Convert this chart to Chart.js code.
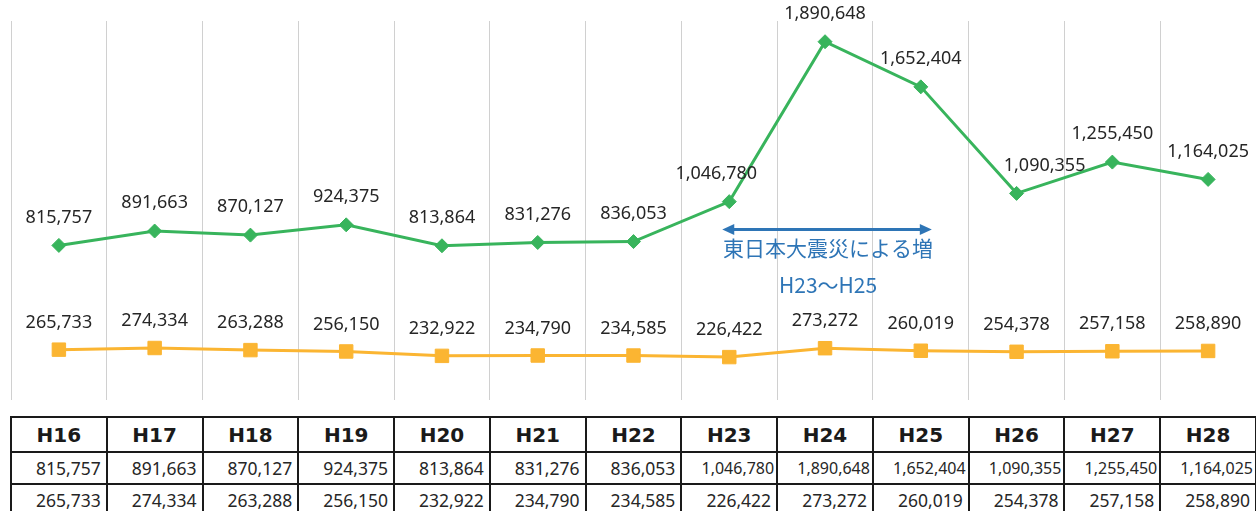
<!DOCTYPE html>
<html>
<head>
<meta charset="utf-8">
<script src="https://cdn.jsdelivr.net/npm/chart.js@4/dist/chart.umd.min.js"></script>
<style>
  html, body { margin: 0; padding: 0; background: #fff; width: 1256px; height: 511px; overflow: hidden; }
  #chartBox { position: absolute; left: 0; top: 0; width: 1256px; height: 400px; }
  #dataTable { position: absolute; left: 10px; top: 416px; border-collapse: collapse; table-layout: fixed; width: 1247px; }
  #dataTable td { border: 2px solid #1a1a1a; padding: 0 5px 0 0; text-align: right; font: 17.5px "Noto Sans", sans-serif; color: #262626; height: 30px; white-space: nowrap; overflow: hidden; }
  #dataTable td.long { font-size: 16px; padding-right: 2px; }
  #dataTable tr.head td { font: bold 20px "DejaVu Sans", sans-serif; color: #1a1a1a; text-align: center; padding: 0; height: 33px; }
</style>
</head>
<body>
<div id="chartBox"><canvas id="trendChart"></canvas></div>
<table id="dataTable"></table>
<script>
const years = ['H16', 'H17', 'H18', 'H19', 'H20', 'H21', 'H22', 'H23', 'H24', 'H25', 'H26', 'H27', 'H28'];
const upperValues = [815757, 891663, 870127, 924375, 813864, 831276, 836053, 1046780, 1890648, 1652404, 1090355, 1255450, 1164025];
const lowerValues = [265733, 274334, 263288, 256150, 232922, 234790, 234585, 226422, 273272, 260019, 254378, 257158, 258890];

// a few labels were nudged sideways in the original
const upperLabelShift = { 7: -13, 10: 28 };

const noteText = '東日本大震災による増';
const noteRange = 'H23～H25';

const fmt = v => v.toLocaleString('en-US');

const pointLabels = {
    id: 'pointLabels',
    afterDatasetsDraw(chart) {
        const ctx = chart.ctx;
        ctx.save();
        ctx.font = '18px "Noto Sans"';
        ctx.fillStyle = '#262626';
        ctx.textAlign = 'center';
        ctx.textBaseline = 'middle';
        chart.data.datasets.forEach((ds, i) => {
            chart.getDatasetMeta(i).data.forEach((pt, j) => {
                const dx = (ds.labelShift && ds.labelShift[j]) || 0;
                ctx.fillText(fmt(ds.data[j]), pt.x + dx, pt.y - ds.labelGap);
            });
        });
        ctx.restore();
    }
};

const quakeNote = {
    id: 'quakeNote',
    afterDatasetsDraw(chart) {
        const ctx = chart.ctx;
        const x = chart.scales.x;
        const y = chart.scales.y;
        const x0 = x.getPixelForValue(7) - 7;
        const x1 = x.getPixelForValue(9) + 11;
        const ay = y.getPixelForValue(900000);
        const cx = (x0 + x1) / 2;
        ctx.save();
        ctx.strokeStyle = '#2e75b6';
        ctx.fillStyle = '#2e75b6';
        ctx.lineWidth = 3;
        ctx.beginPath();
        ctx.moveTo(x0 + 8, ay);
        ctx.lineTo(x1 - 8, ay);
        ctx.stroke();
        ctx.beginPath();
        ctx.moveTo(x0, ay);
        ctx.lineTo(x0 + 12, ay - 5.5);
        ctx.lineTo(x0 + 12, ay + 5.5);
        ctx.closePath();
        ctx.fill();
        ctx.beginPath();
        ctx.moveTo(x1, ay);
        ctx.lineTo(x1 - 12, ay - 5.5);
        ctx.lineTo(x1 - 12, ay + 5.5);
        ctx.closePath();
        ctx.fill();
        ctx.textAlign = 'center';
        ctx.textBaseline = 'middle';
        ctx.font = '21px "Noto Sans CJK JP"';
        ctx.fillText(noteText, cx + 1, ay + 19);
        ctx.fillText(noteRange, cx + 1, ay + 56);
        ctx.restore();
    }
};

new Chart(document.getElementById('trendChart'), {
    type: 'line',
    data: {
        labels: years,
        datasets: [
            {
                data: upperValues,
                borderColor: '#38b45c',
                backgroundColor: '#38b45c',
                borderWidth: 3,
                pointStyle: 'rectRot',
                pointRadius: 7,
                pointBorderWidth: 1,
                labelGap: 28,
                labelShift: upperLabelShift,
                tension: 0
            },
            {
                data: lowerValues,
                borderColor: '#fbb532',
                backgroundColor: '#fbb532',
                borderWidth: 3,
                pointStyle: 'rect',
                pointRadius: 9.5,
                pointBorderWidth: 1,
                labelGap: 27,
                tension: 0
            }
        ]
    },
    options: {
        responsive: true,
        maintainAspectRatio: false,
        animation: false,
        layout: { autoPadding: false, padding: { left: 11, top: 21, right: 0, bottom: 0 } },
        plugins: {
            legend: { display: false },
            tooltip: { enabled: false }
        },
        scales: {
            x: {
                offset: true,
                grid: { offset: true, color: '#d0d0d0', lineWidth: 1, drawTicks: false },
                border: { display: false },
                ticks: { display: false }
            },
            y: {
                display: false,
                min: 0,
                max: 2000000
            }
        }
    },
    plugins: [pointLabels, quakeNote]
});

// data table under the plot
const table = document.getElementById('dataTable');
[years, upperValues, lowerValues].forEach((row, r) => {
    const tr = table.insertRow();
    if (r === 0) tr.className = 'head';
    row.forEach(v => {
        const td = tr.insertCell();
        td.textContent = r === 0 ? v : fmt(v);
        if (r > 0 && v >= 1000000) td.className = 'long';
    });
});
</script>
</body>
</html>
